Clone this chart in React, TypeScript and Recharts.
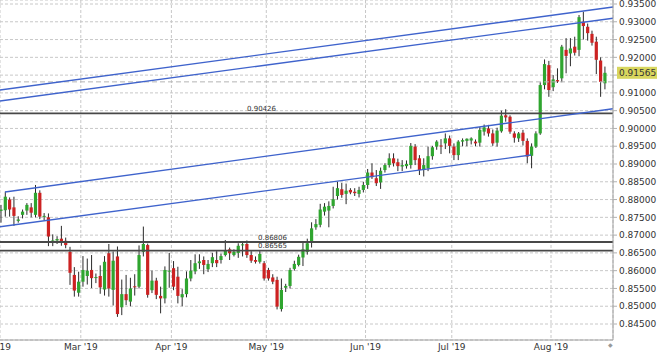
import { ComposedChart, Bar, XAxis, YAxis, CartesianGrid, ReferenceLine } from 'recharts';

// daily candles, index 0 = first visible session
const opens = [
  0.8768, 0.8770, 0.8800, 0.8778, 0.8740, 0.8757, 0.8769, 0.8778, 0.8757, 0.8819,
  0.8752, 0.8750, 0.8679, 0.8685, 0.8690, 0.8684, 0.8653, 0.8588, 0.8538, 0.8569,
  0.8585, 0.8602, 0.8580, 0.8585, 0.8547, 0.8649, 0.8546, 0.8640, 0.8497, 0.8534,
  0.8513, 0.8556, 0.8555, 0.8653, 0.8672, 0.8545, 0.8572, 0.8529, 0.8522, 0.8598,
  0.8607, 0.8583, 0.8525, 0.8534, 0.8578, 0.8598, 0.8621, 0.8630, 0.8604, 0.8621,
  0.8630, 0.8630, 0.8644, 0.8660, 0.8644, 0.8650, 0.8672, 0.8675, 0.8644, 0.8630,
  0.8625, 0.8621, 0.8602, 0.8581, 0.8574, 0.8492, 0.8552, 0.8557, 0.8605, 0.8616,
  0.8637, 0.8653, 0.8679, 0.8722, 0.8729, 0.8766, 0.8769, 0.8782, 0.8810, 0.8829,
  0.8816, 0.8827, 0.8822, 0.8816, 0.8827, 0.8841, 0.8876, 0.8860, 0.8848, 0.8883,
  0.8897, 0.8916, 0.8905, 0.8893, 0.8894, 0.8897, 0.8949, 0.8916, 0.8883, 0.8888,
  0.8922, 0.8949, 0.8952, 0.8958, 0.8972, 0.8949, 0.8925, 0.8963, 0.8965, 0.8966,
  0.8963, 0.8960, 0.8991, 0.9000, 0.8986, 0.8960, 0.8992, 0.9037, 0.9033, 0.8986,
  0.8972, 0.8988, 0.8965, 0.8923, 0.8949, 0.8986, 0.9122, 0.9178, 0.9116, 0.9136,
  0.9141, 0.9221, 0.9211, 0.9230, 0.9221, 0.9300, 0.9286, 0.9266, 0.9244, 0.9191,
  0.9127,
];
const highs = [
  0.8785, 0.8822, 0.8806, 0.8808, 0.8753, 0.8772, 0.8790, 0.8790, 0.8841, 0.8826,
  0.8762, 0.8761, 0.8702, 0.8697, 0.8726, 0.8693, 0.8667, 0.8610, 0.8597, 0.8641,
  0.8634, 0.8644, 0.8592, 0.8615, 0.8641, 0.8675, 0.8654, 0.8668, 0.8575, 0.8588,
  0.8580, 0.8590, 0.8671, 0.8724, 0.8676, 0.8600, 0.8580, 0.8555, 0.8612, 0.8650,
  0.8627, 0.8611, 0.8548, 0.8598, 0.8630, 0.8646, 0.8646, 0.8640, 0.8630, 0.8650,
  0.8655, 0.8648, 0.8686, 0.8665, 0.8660, 0.8677, 0.8680, 0.8685, 0.8655, 0.8640,
  0.8655, 0.8627, 0.8608, 0.8590, 0.8583, 0.8578, 0.8563, 0.8608, 0.8628, 0.8645,
  0.8683, 0.8690, 0.8736, 0.8745, 0.8788, 0.8790, 0.8795, 0.8836, 0.8850, 0.8847,
  0.8845, 0.8832, 0.8832, 0.8836, 0.8850, 0.8886, 0.8902, 0.8883, 0.8890, 0.8902,
  0.8930, 0.8930, 0.8915, 0.8911, 0.8910, 0.8959, 0.8956, 0.8925, 0.8916, 0.8949,
  0.8951, 0.8967, 0.8970, 0.8986, 0.8980, 0.8958, 0.8967, 0.8972, 0.8972, 0.8975,
  0.8969, 0.9004, 0.9011, 0.9010, 0.8997, 0.9002, 0.9050, 0.9054, 0.9037, 0.8992,
  0.8990, 0.8996, 0.8972, 0.8958, 0.8992, 0.9130, 0.9194, 0.9190, 0.9150, 0.9169,
  0.9235, 0.9254, 0.9254, 0.9258, 0.9319, 0.9328, 0.9295, 0.9275, 0.9258, 0.9200,
  0.9174,
];
const lows = [
  0.8735, 0.8752, 0.8752, 0.8726, 0.8735, 0.8747, 0.8757, 0.8750, 0.8750, 0.8745,
  0.8742, 0.8669, 0.8669, 0.8675, 0.8670, 0.8663, 0.8560, 0.8527, 0.8527, 0.8555,
  0.8561, 0.8551, 0.8565, 0.8535, 0.8530, 0.8527, 0.8502, 0.8470, 0.8475, 0.8503,
  0.8500, 0.8530, 0.8550, 0.8640, 0.8524, 0.8537, 0.8520, 0.8480, 0.8508, 0.8552,
  0.8545, 0.8508, 0.8500, 0.8525, 0.8570, 0.8590, 0.8605, 0.8590, 0.8596, 0.8610,
  0.8610, 0.8620, 0.8640, 0.8630, 0.8640, 0.8636, 0.8640, 0.8636, 0.8622, 0.8620,
  0.8620, 0.8572, 0.8572, 0.8562, 0.8491, 0.8485, 0.8540, 0.8550, 0.8600, 0.8612,
  0.8613, 0.8645, 0.8665, 0.8715, 0.8722, 0.8755, 0.8722, 0.8775, 0.8800, 0.8805,
  0.8787, 0.8815, 0.8810, 0.8806, 0.8820, 0.8830, 0.8858, 0.8838, 0.8830, 0.8876,
  0.8890, 0.8893, 0.8880, 0.8880, 0.8887, 0.8887, 0.8897, 0.8869, 0.8865, 0.8880,
  0.8912, 0.8940, 0.8928, 0.8942, 0.8930, 0.8911, 0.8911, 0.8950, 0.8950, 0.8955,
  0.8950, 0.8949, 0.8980, 0.8977, 0.8951, 0.8949, 0.8988, 0.9019, 0.8985, 0.8960,
  0.8962, 0.8952, 0.8902, 0.8888, 0.8945, 0.8982, 0.9110, 0.9089, 0.9105, 0.9128,
  0.9130, 0.9155, 0.9175, 0.9205, 0.9203, 0.9250, 0.9247, 0.9233, 0.9153, 0.9089,
  0.9110,
];
const closes = [
  0.8772, 0.8808, 0.8772, 0.8754, 0.8744, 0.8766, 0.8785, 0.8763, 0.8819, 0.8752,
  0.8754, 0.8696, 0.8685, 0.8689, 0.8679, 0.8672, 0.8594, 0.8544, 0.8569, 0.8602,
  0.8600, 0.8579, 0.8582, 0.8553, 0.8625, 0.8550, 0.8628, 0.8478, 0.8534, 0.8517,
  0.8550, 0.8554, 0.8644, 0.8675, 0.8532, 0.8572, 0.8532, 0.8522, 0.8602, 0.8600,
  0.8555, 0.8529, 0.8534, 0.8578, 0.8600, 0.8621, 0.8626, 0.8616, 0.8619, 0.8638,
  0.8621, 0.8641, 0.8658, 0.8649, 0.8653, 0.8670, 0.8674, 0.8644, 0.8628, 0.8625,
  0.8647, 0.8578, 0.8578, 0.8569, 0.8499, 0.8546, 0.8557, 0.8602, 0.8619, 0.8639,
  0.8660, 0.8677, 0.8719, 0.8731, 0.8772, 0.8780, 0.8782, 0.8801, 0.8832, 0.8813,
  0.8825, 0.8820, 0.8818, 0.8827, 0.8841, 0.8876, 0.8863, 0.8846, 0.8881, 0.8897,
  0.8916, 0.8902, 0.8894, 0.8897, 0.8900, 0.8951, 0.8911, 0.8883, 0.8897, 0.8922,
  0.8947, 0.8963, 0.8950, 0.8972, 0.8951, 0.8925, 0.8963, 0.8967, 0.8971, 0.8972,
  0.8958, 0.8996, 0.9003, 0.8986, 0.8958, 0.8994, 0.9036, 0.9031, 0.8991, 0.8974,
  0.8986, 0.8965, 0.8921, 0.8949, 0.8986, 0.9122, 0.9181, 0.9108, 0.9138, 0.9132,
  0.9230, 0.9204, 0.9225, 0.9213, 0.9313, 0.9288, 0.9268, 0.9241, 0.9193, 0.9131,
  0.91565,
];

// month boundaries on the session index axis
const monthTicks = [-1.5, 18.5, 39.5, 61.5, 84.5, 104.5, 127.5];
const monthLabels = ["Feb '19", "Mar '19", "Apr '19", "May '19", "Jun '19", "Jul '19", "Aug '19"];

const priceTicks = [
  0.845, 0.85, 0.855, 0.86, 0.865, 0.87, 0.875, 0.88, 0.885, 0.89,
  0.895, 0.9, 0.905, 0.91, 0.915, 0.92, 0.925, 0.93, 0.935,
];
const hiddenTick = 0.915; // covered by the last-price tag

const levels = [0.90426, 0.86806, 0.86565];
const levelLabelX = [247, 258, 258];

// trend channels: [[index, price], [index, price]]
const channels = [
  [[-0.232, 0.91081], [141.87, 0.93416]],
  [[-0.232, 0.90772], [141.87, 0.93101]],
  [[0.927, 0.88213], [141.87, 0.90555]],
  [[-0.232, 0.87237], [122.86, 0.89253]],
];

const lastPrice = 0.91565;
const prevClose = 0.9131;

const GREEN = '#2fa52f';
const RED = '#cc2222';
const FONT = 'DejaVu Sans';

const rows = opens.map((o, i) => ({
  i,
  o,
  h: highs[i],
  l: lows[i],
  c: closes[i],
  range: [lows[i], highs[i]],
}));

function Candle(props: any) {
  const { x, y, width, height, payload } = props;
  if (!payload || x == null) return null;
  const { o, h, l, c } = payload;
  const cx = x + width / 2;
  const k = h === l ? 0 : height / (h - l);
  const yO = y + (h - o) * k;
  const yC = y + (h - c) * k;
  const top = Math.min(yO, yC);
  const bh = Math.max(Math.abs(yO - yC), 1);
  return (
    <g>
      <line x1={cx} x2={cx} y1={y} y2={y + height} stroke="#2a2a2a" strokeWidth={1} />
      <rect x={cx - 1.6} y={top} width={3.2} height={bh} fill={c >= o ? GREEN : RED} />
    </g>
  );
}

function LevelTag({ viewBox, text, dx }: any) {
  if (!viewBox) return null;
  return (
    <text x={viewBox.x + dx} y={viewBox.y - 2.5} fontSize={7} fill="#333" fontFamily={FONT}>
      {text}
    </text>
  );
}

function PriceTag({ viewBox }: any) {
  if (!viewBox) return null;
  const left = viewBox.x + viewBox.width + 4;
  return (
    <g>
      <rect x={left} y={viewBox.y - 6} width={40} height={12} fill="#d8d65e" />
      <text x={left + 2} y={viewBox.y + 3.3} fontSize={9} fill="#333" fontFamily={FONT}>
        {lastPrice.toFixed(5)}
      </text>
    </g>
  );
}

export default function App() {
  return (
    <div style={{ position: 'absolute', left: 0, top: 0, width: 660, height: 356, background: '#fff', fontFamily: FONT }}>
      <ComposedChart width={660} height={356} data={rows} margin={{ top: 0, right: 0, bottom: 0, left: 0 }}>
        <CartesianGrid strokeDasharray="3 2" stroke="#c8c8c8" />
        <XAxis
          dataKey="i"
          type="number"
          domain={[-0.232, 141.87]}
          allowDataOverflow
          ticks={monthTicks}
          interval={0}
          tickFormatter={(v: number) => monthLabels[monthTicks.indexOf(v)] ?? ''}
          height={16}
          tickLine={false}
          tickSize={3}
          tickMargin={1}
          axisLine={{ stroke: '#a0a0a0' }}
          tick={{ fontSize: 9, fill: '#333', fontFamily: FONT }}
        />
        <YAxis
          orientation="right"
          domain={[0.8405, 0.936125]}
          allowDataOverflow
          ticks={priceTicks}
          interval={0}
          width={47}
          tickFormatter={(v: number) => (Math.abs(v - hiddenTick) < 1e-6 ? '' : v.toFixed(5))}
          tickSize={4}
          tickMargin={2}
          axisLine={{ stroke: '#a0a0a0' }}
          tickLine={{ stroke: '#b0b0b0' }}
          tick={{ fontSize: 9, fill: '#333', fontFamily: FONT }}
        />
        <ReferenceLine y={prevClose} stroke="#b4b4b4" strokeDasharray="5 3" />
        <Bar dataKey="range" barSize={4.3} shape={<Candle />} isAnimationActive={false} />
        {levels.map((lv, k) => (
          <ReferenceLine
            key={lv}
            y={lv}
            stroke="#484848"
            strokeWidth={1.8}
            label={<LevelTag text={lv.toFixed(5)} dx={levelLabelX[k]} />}
          />
        ))}
        {channels.map((seg, k) => (
          <ReferenceLine
            key={k}
            segment={[{ x: seg[0][0], y: seg[0][1] }, { x: seg[1][0], y: seg[1][1] }]}
            stroke="#3f63cc"
            strokeWidth={1.4}
            ifOverflow="visible"
          />
        ))}
        <ReferenceLine y={lastPrice} stroke="none" label={<PriceTag />} />
      </ComposedChart>
      <div style={{ position: 'absolute', left: 608, top: 341, fontSize: 6, color: '#999', lineHeight: '8px' }}>◆</div>
    </div>
  );
}
